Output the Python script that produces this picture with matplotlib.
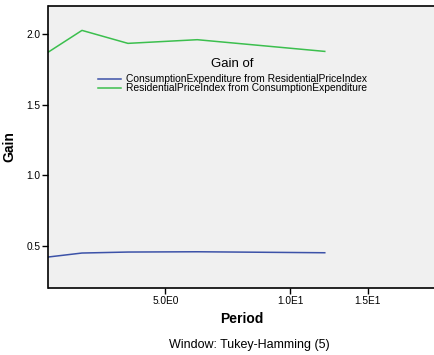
import matplotlib.pyplot as plt
import numpy as np

plt.rcParams['font.family'] = ['Liberation Sans', 'DejaVu Sans']

# Spectral gain by period (n = 12, Tukey-Hamming window of span 5)
periods = [2.4, 3, 4, 6, 12]
gain_ce_from_rpi = [0.42, 0.448, 0.455, 0.457, 0.45]
gain_rpi_from_ce = [1.874, 2.027, 1.935, 1.961, 1.878]

series_labels = ['ConsumptionExpenditure from ResidentialPriceIndex',
                 'ResidentialPriceIndex from ConsumptionExpenditure']
series_colors = ['#3c52a8', '#3cbf4e']

x_ticks = [5, 10, 15]
x_ticklabels = ['5.0E0', '1.0E1', '1.5E1']
y_ticks = [0.5, 1.0, 1.5, 2.0]

W, H = 435, 355
ax_left, ax_bottom, ax_top = 48.5, 288, 6
fig = plt.figure(figsize=(W / 100, H / 100), dpi=100)
ax = fig.add_axes([ax_left / W, 1 - ax_bottom / H, 1 - ax_left / W, (ax_bottom - ax_top) / H])
ax.set_facecolor('#f0f0f0')

ax.set_xscale('function', functions=(lambda v: np.log10(v + 1), lambda v: 10 ** v - 1))

for vals, lab, col in zip([gain_ce_from_rpi, gain_rpi_from_ce], series_labels, series_colors):
    ax.plot(periods, vals, color=col, linewidth=1.1, label=lab)

ax.set_xlim(2.4, 21.2)
ax.set_ylim(0.2, 2.2)
ax.set_xticks(x_ticks)
ax.set_xticklabels(x_ticklabels)
ax.xaxis.set_minor_locator(plt.NullLocator())
ax.set_yticks(y_ticks)
ax.set_yticklabels([f'{v:.1f}' for v in y_ticks])
ax.tick_params(axis='both', labelsize=7.3, length=4, width=1, colors='black', pad=2)

for side in ['left', 'bottom', 'top']:
    ax.spines[side].set_linewidth(1.2)
ax.spines['right'].set_visible(False)

ax.set_xlabel('Period', fontsize=10, fontweight='bold', labelpad=4)
ax.set_ylabel('Gain', fontsize=10, fontweight='bold')
ax.yaxis.set_label_coords(-(ax_left - 16.5) / (W - ax_left), 0.5)

leg = ax.legend(title='Gain of', fontsize=7.4, title_fontsize=9.5, frameon=False,
                loc='upper left', bbox_to_anchor=(98 / W, 1 - 58 / H),
                bbox_transform=fig.transFigure, borderpad=0, borderaxespad=0,
                handlelength=2.2, handletextpad=0.5, labelspacing=-0.1)
leg._legend_box.align = 'center'
leg._legend_box.sep = 3

fig.text(249 / W, 1 - 345 / H, 'Window: Tukey-Hamming (5)', ha='center', va='center', fontsize=9)

fig.savefig('out.png', dpi=100, facecolor='white')
